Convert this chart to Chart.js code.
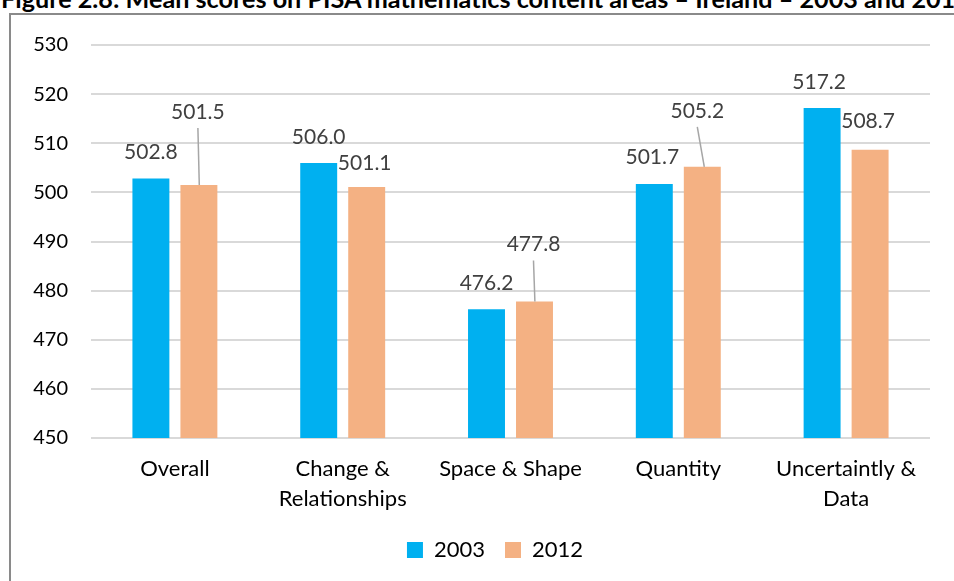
<!DOCTYPE html>
<html>
<head>
<meta charset="utf-8">
<script src="https://cdn.jsdelivr.net/npm/chart.js@4.4.1/dist/chart.umd.min.js"></script>
<style>
  html, body { margin: 0; padding: 0; background: #fff; overflow: hidden; }
  #wrap { position: relative; width: 954px; height: 581px; overflow: hidden; }
  #title { position: absolute; left: 1px; top: -15px; white-space: nowrap;
           font-family: Lato, "Open Sans", sans-serif; font-weight: bold; font-size: 25.2px; color: #000; line-height: 26px; }
  #frame { position: absolute; left: 9px; top: 13px; right: -10px; bottom: -10px;
           border-left: 2px solid #8a8a8a; border-top: 2px solid #8a8a8a; }
  #c { position: absolute; left: 0; top: 0; }
</style>
</head>
<body>
<div id="wrap">
  <div id="title">Figure 2.8: Mean scores on PISA mathematics content areas – Ireland – 2003 and 2012</div>
  <div id="frame"></div>
  <canvas id="c" width="954" height="581"></canvas>
</div>
<script>
const categories = ["Overall", ["Change &", "Relationships"], "Space & Shape", "Quantity", ["Uncertaintly &", "Data"]];
const values2003 = [502.8, 506.0, 476.2, 501.7, 517.2];
const values2012 = [501.5, 501.1, 477.8, 505.2, 508.7];
const seriesNames = ["2003", "2012"];
const yTicks = [450, 460, 470, 480, 490, 500, 510, 520, 530];

// label placement styling: [datasetIndex][categoryIndex] = [dx, lift, leader]
const labelStyle = [
  [[0, 26, false], [0, 26, false], [0, 26, false], [-2, 27, false], [-3, 26, false]],
  [[-1, 73, true], [-2, 24, false], [-1, 57, true], [-5, 56, true], [-2, 28, false]]
];

const FONT = 'Lato, "Open Sans", sans-serif';

const labelPlugin = {
  id: 'barLabels',
  afterLayout(chart) {
    // the legend in the reference is centred on a wider (cropped) chart frame
    const lg = chart.legend;
    if (lg) { lg.left += 30; lg.right += 30; }
  },
  afterDatasetsDraw(chart) {
    const ctx = chart.ctx;
    ctx.save();
    ctx.font = '21px ' + FONT;
    ctx.fillStyle = '#404040';
    ctx.textAlign = 'center';
    ctx.textBaseline = 'middle';
    chart.data.datasets.forEach((ds, di) => {
      const meta = chart.getDatasetMeta(di);
      meta.data.forEach((bar, i) => {
        const st = labelStyle[di][i];
        const x = bar.x + st[0];
        const y = bar.y - st[1];
        ctx.fillText(ds.data[i].toFixed(1), x, y);
        if (st[2]) {
          ctx.strokeStyle = '#a6a6a6';
          ctx.lineWidth = 1.5;
          ctx.beginPath();
          ctx.moveTo(x, y + 16);
          ctx.lineTo(bar.x - st[0] * 0.4, bar.y);
          ctx.stroke();
        }
      });
    });
    ctx.restore();
  }
};

new Chart(document.getElementById('c'), {
  type: 'bar',
  data: {
    labels: categories,
    datasets: [
      { label: seriesNames[0], data: values2003, backgroundColor: '#00B0F0', borderWidth: 0,
        categoryPercentage: 0.572, barPercentage: 0.77 },
      { label: seriesNames[1], data: values2012, backgroundColor: '#F4B183', borderWidth: 0,
        categoryPercentage: 0.572, barPercentage: 0.77 }
    ]
  },
  options: {
    responsive: false,
    animation: false,
    devicePixelRatio: 1,
    layout: { padding: { left: 0, right: 24, top: 45, bottom: 10 } },
    plugins: {
      legend: {
        position: 'bottom',
        labels: { boxWidth: 16, boxHeight: 16, padding: 20, color: '#000', font: { family: FONT, size: 22 } }
      },
      tooltip: { enabled: false },
      title: { display: false }
    },
    scales: {
      x: {
        grid: { display: false, drawTicks: false },
        border: { display: false },
        ticks: { color: '#000', font: { family: FONT, size: 22, lineHeight: 1.35 }, padding: 16, maxRotation: 0, autoSkip: false },
        afterFit(s) { s.height = 81; }
      },
      y: {
        min: 450, max: 530,
        afterBuildTicks(s) { s.ticks = yTicks.map(v => ({ value: v })); },
        grid: { color: '#d9d9d9', lineWidth: 2, drawTicks: false },
        border: { display: false },
        ticks: { color: '#000', font: { family: FONT, size: 20 }, padding: 23 },
        afterFit(s) { s.width = 91; }
      }
    }
  },
  plugins: [labelPlugin]
});
</script>
</body>
</html>
